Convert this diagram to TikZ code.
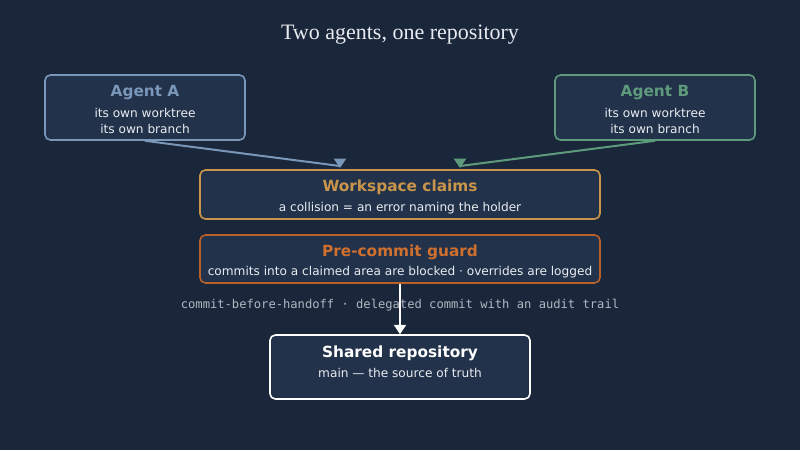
\documentclass[tikz,border=0pt]{standalone}
\usepackage{fontspec}
\setmainfont{DejaVu Sans}
\newfontfamily\monof{DejaVu Sans Mono}
\newfontfamily\seriff{Liberation Serif}
\usetikzlibrary{arrows.meta}
\definecolor{bg}{HTML}{1A2639}
\definecolor{boxf}{HTML}{22324A}
\definecolor{ablue}{HTML}{7A96B8}
\definecolor{bgreen}{HTML}{5E9A7C}
\definecolor{gold}{HTML}{C8954A}
\definecolor{rust}{HTML}{B8602A}
\definecolor{rustt}{HTML}{D0702E}
\definecolor{txt}{HTML}{E8ECF2}
\definecolor{gr}{HTML}{B0B8C4}
\begin{document}
\begin{tikzpicture}[x=0.75pt,y=-0.75pt,
 box/.style={draw,line width=1.2pt,fill=boxf,rounded corners=4pt,inner sep=0pt},
 ttl/.style={font=\fontsize{11.5}{13}\selectfont\bfseries},
 sub/.style={font=\fontsize{9.1}{10}\selectfont,text=txt},
 arr/.style={line width=1.5pt,-{Triangle[width=9pt,length=7pt]}},
 tip/.style={-{Triangle[width=9pt,length=7pt]}}]
\fill[bg] (0,0) rectangle (800,450);
\useasboundingbox (0,0) rectangle (800,450);
\node[text=txt,font=\seriff\fontsize{16.5}{18}\selectfont] (title) at (400,35) {Two agents, one repository};
\node[box,draw=ablue,minimum width=150pt,minimum height=48.75pt] (A) at (145,107.5) {};
\node[ttl,text=ablue] (At) at (145,93) {Agent A};
\node[sub] (A1) at (145,113) {its own worktree};
\node[sub] (A2) at (145,129) {its own branch};
\node[box,draw=bgreen,minimum width=150pt,minimum height=48.75pt] (B) at (655,107.5) {};
\node[ttl,text=bgreen] (Bt) at (655,93) {Agent B};
\node[sub] (B1) at (655,113) {its own worktree};
\node[sub] (B2) at (655,129) {its own branch};
\node[box,draw=gold,minimum width=300pt,minimum height=36.75pt] (W) at (400,194.5) {};
\node[ttl,text=gold] (Wt) at (400,187) {Workspace claims};
\node[sub] (Ws) at (400,208.5) {a collision = an error naming the holder};
\node[box,draw=rust,minimum width=300pt,minimum height=36pt] (P) at (400,259) {};
\node[ttl,text=rustt] (Pt) at (400,252) {Pre-commit guard};
\node[sub] (Ps) at (400,272.5) {commits into a claimed area are blocked · overrides are logged};
\node[box,draw=white,minimum width=195pt,minimum height=48pt] (S) at (400,367) {};
\node[ttl,text=white] (St) at (400,353) {Shared repository};
\node[sub] (Ss) at (400,373) {main — the source of truth};
\node[text=gr,font=\monof\fontsize{9.1}{10}\selectfont] (lab) at (400,305) {commit-before-handoff · delegated commit with an audit trail};
\coordinate (a0) at (340,166); \coordinate (b0) at (460,166);
\coordinate (a1) at (340,168); \coordinate (b1) at (460,168);
\draw[line width=1.5pt,ablue] (A.south) -- (a0);
\draw[line width=1.5pt,tip,ablue] (a0) -- (a1);
\draw[line width=1.5pt,bgreen] (B.south) -- (b0);
\draw[line width=1.5pt,tip,bgreen] (b0) -- (b1);
\draw[arr,white] (P.south) -- (S.north);
\end{tikzpicture}
\end{document}
